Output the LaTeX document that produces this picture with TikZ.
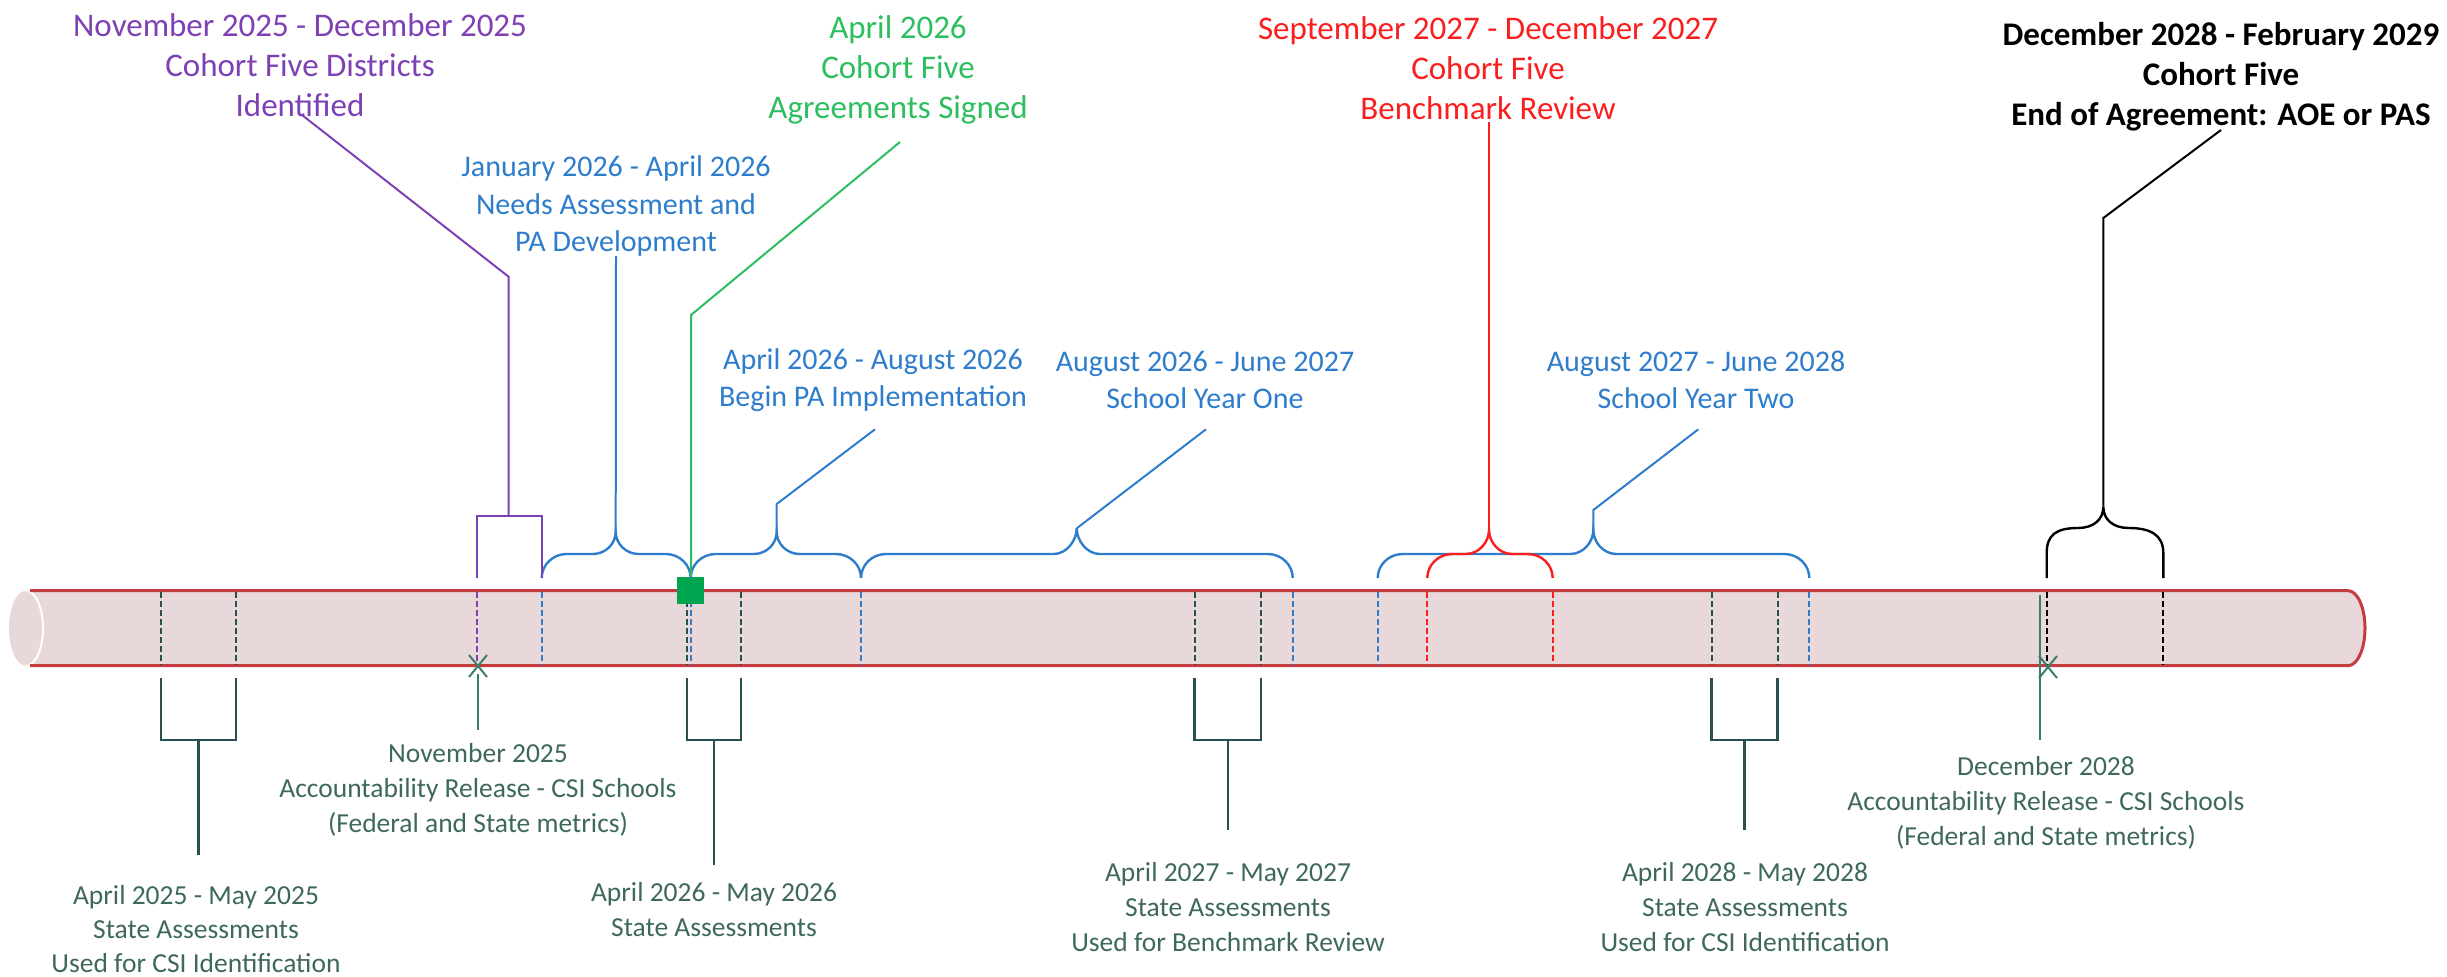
\documentclass[tikz,border=0pt]{standalone}
\usepackage{fontspec}
\setmainfont{Carlito}
\usetikzlibrary{calc}
\definecolor{cylfill}{RGB}{233,216,217}
\definecolor{cylline}{RGB}{196,60,62}
\definecolor{tlblue}{RGB}{46,125,205}
\definecolor{tlpurple}{RGB}{125,65,180}
\definecolor{tlgreen}{RGB}{45,190,95}
\definecolor{sqgreen}{RGB}{0,165,80}
\definecolor{tlred}{RGB}{250,30,30}
\definecolor{tealtxt}{RGB}{62,104,94}
\definecolor{slate}{RGB}{40,80,80}
\definecolor{xteal}{RGB}{60,125,108}
% brace: #1 left x, #2 right x, #3 tip x, #4 tip y, #5 style
\newcommand\tlbrace[5]{%
  \draw[#5] (#1,578) .. controls (#1,565) and ({#1+11},554) .. ({#1+25},554)
    -- ({#3-23},554) .. controls ({#3-10},554) and (#3,{#4+12}) .. (#3,#4)
    .. controls (#3,{#4+12}) and ({#3+10},554) .. ({#3+23},554)
    -- ({#2-25},554) .. controls ({#2-11},554) and (#2,565) .. (#2,578);}
\begin{document}
\begin{tikzpicture}[x=1pt,y=-1pt,
  lbl/.style={align=center,inner sep=0pt},
  toplbl/.style={lbl,font=\fontsize{33}{40}\selectfont},
  midlbl/.style={lbl,font=\fontsize{30}{37.5}\selectfont,text=tlblue},
  botlbl/.style={lbl,font=\fontsize{27.5}{35}\selectfont,text=tealtxt},
  tick/.style={line width=2pt,dash pattern=on 6pt off 3pt},
  brc/.style={line width=2.4pt},
  conn/.style={line width=2pt},
  sqbr/.style={line width=2.4pt,slate},
  xmark/.style={line width=2pt,xteal}]
\useasboundingbox (0,0) rectangle (2447,977);

% ---- cylinder ----
\fill[cylfill] (26,590.7) rectangle (2348,665.7);
\fill[cylfill] (26,628.2) ellipse[x radius=17pt,y radius=37.5pt];
\fill[cylfill] (2348,590.7) arc[start angle=90,end angle=-90,x radius=17pt,y radius=37.5pt] -- cycle;
\draw[white,line width=2pt] (26,590.7) arc[start angle=90,end angle=-90,x radius=17pt,y radius=37.5pt];
\draw[cylline,line width=3pt] (30,590.7) -- (2348,590.7)
  arc[start angle=90,end angle=-90,x radius=17pt,y radius=37.5pt] -- (30,665.7);

% ---- dashed ticks ----
\foreach \x in {161,236,686.7,741,1194.5,1261,1711.5,1777.5}
  \draw[tick,slate] (\x,592) -- (\x,664.5);
\foreach \x in {2046.7,2163.3}
  \draw[tick,black] (\x,592) -- (\x,664.5);
\draw[tick,tlpurple] (477.3,592) -- (477.3,664.5);
\foreach \x in {541.7,690.7,861,1292.7,1377.7,1809.3}
  \draw[tick,tlblue] (\x,592) -- (\x,664.5);
\foreach \x in {1427.3,1552.7}
  \draw[tick,tlred] (\x,592) -- (\x,664.5);

\node[fill=sqgreen,minimum size=27pt,inner sep=0pt] (sq) at (690.8,590.3) {};

% ---- top labels ----
\node[toplbl,text=tlpurple] (pur) at (300,65) {November 2025 - December 2025\\Cohort Five Districts\\Identified};
\node[toplbl,text=tlgreen] (grn) at (898,70) {April 2026\\Cohort Five\\Agreements Signed};
\node[toplbl,text=tlred] (rd) at (1488,68) {September 2027 - December 2027\\Cohort Five\\Benchmark Review};
\node[toplbl,font=\fontsize{33}{40}\selectfont\bfseries] (blk) at (2221,77) {December 2028 - February 2029\\Cohort Five\\End of Agreement: AOE or PAS};

\node[midlbl] (na) at (616,206) {January 2026 - April 2026\\Needs Assessment and\\PA Development};
\node[midlbl] (pai) at (873,380) {April 2026 - August 2026\\Begin PA Implementation};
\node[midlbl] (sy1) at (1205,380) {August 2026 - June 2027\\School Year One};
\node[midlbl] (sy2) at (1696,380) {August 2027 - June 2028\\School Year Two};

% ---- braces ----
\tlbrace{541.7}{690.7}{615.7}{531.7}{brc,tlblue}
\tlbrace{690.7}{861}{776.7}{531.7}{brc,tlblue}
\tlbrace{861}{1292.7}{1076.7}{528.3}{brc,tlblue}
\tlbrace{1377.7}{1809.3}{1593.3}{530}{brc,tlblue}
\tlbrace{1427.3}{1552.7}{1489}{530}{brc,tlred}
\draw[brc,black] (2046.7,578) -- (2046.7,553) .. controls (2046.7,535) and (2056,528) .. (2078,528)
  .. controls (2093,528) and (2103.3,520) .. (2103.3,506.7)
  .. controls (2103.3,520) and (2113.6,528) .. (2128.6,528)
  .. controls (2150.6,528) and (2163.3,535) .. (2163.3,553) -- (2163.3,578);

% ---- connector points ----
\coordinate (tipNA) at (615.7,531.7);
\coordinate (tipPAI) at (776.7,531.7);
\coordinate (tipSY1) at (1076.7,528.3);
\coordinate (tipSY2) at (1593.3,530);
\coordinate (tipRD) at (1489,530);
\coordinate (tipBK) at (2103.3,506.7);

\coordinate (pA) at (302,115);
\coordinate (pB) at (508.6,276.7);
\coordinate (pC) at (508.6,515.7);
\coordinate (pL) at (477.3,515.7);
\coordinate (pR) at (541.7,515.7);
\draw[conn,tlpurple] (pA) -- (pB) -- (pC);
\draw[conn,tlpurple] (477.3,578) -- (pL) -- (pR) -- (541.7,578);

\coordinate (gA) at (900,142);
\coordinate (gB) at (691,315);
\draw[conn,tlgreen] (gA) -- (gB) -- (sq.north -| gB);

\coordinate (nA) at (616,256);
\draw[conn,tlblue] (nA) -- (tipNA);
\coordinate (iA) at (875,429.3);
\coordinate (iB) at (776.7,504);
\draw[conn,tlblue] (iA) -- (iB) -- (tipPAI);
\coordinate (oA) at (1206,429.3);
\draw[conn,tlblue] (oA) -- (tipSY1);
\coordinate (wA) at (1698.3,429.3);
\coordinate (wB) at (1593.3,510);
\draw[conn,tlblue] (wA) -- (wB) -- (tipSY2);
\coordinate (rA) at (1489,122);
\draw[conn,tlred] (rA) -- (tipRD);
\coordinate (kA) at (2221,130);
\coordinate (kB) at (2103.3,218);
\draw[conn,black] (kA) -- (kB) -- (tipBK);

% ---- bottom brackets ----
\draw[sqbr] (161,678) -- (161,740) -- (236,740) -- (236,678);
\draw[sqbr] (686.7,678) -- (686.7,740) -- (741,740) -- (741,678);
\draw[sqbr] (1194.5,678) -- (1194.5,740) -- (1261,740) -- (1261,678);
\draw[sqbr] (1711.5,678) -- (1711.5,740) -- (1777.5,740) -- (1777.5,678);

\node[botlbl,font=\fontsize{27.5}{34}\selectfont] (sa25) at (196,929) {April 2025 - May 2025\\State Assessments\\Used for CSI Identification};
\node[botlbl] (ar25) at (478,790) {November 2025\\Accountability Release - CSI Schools\\(Federal and State metrics)};
\node[botlbl] (sa26) at (714,910) {April 2026 - May 2026\\State Assessments};
\node[botlbl] (sa27) at (1228,907) {April 2027 - May 2027\\State Assessments\\Used for Benchmark Review};
\node[botlbl] (sa28) at (1745,907) {April 2028 - May 2028\\State Assessments\\Used for CSI Identification};
\node[botlbl] (ar28) at (2046,803) {December 2028\\Accountability Release - CSI Schools\\(Federal and State metrics)};

\coordinate (b1) at (198.5,740);
\coordinate (b1e) at (198.5,855);
\draw[sqbr] (b1) -- (b1e);
\coordinate (b2) at (713.8,740);
\coordinate (b2e) at (713.8,865);
\draw[sqbr] (b2) -- (b2e);
\coordinate (b3) at (1228,740);
\coordinate (b3e) at (1228,830);
\draw[sqbr] (b3) -- (b3e);
\coordinate (b4) at (1744.5,740);
\coordinate (b4e) at (1744.5,830);
\draw[sqbr] (b4) -- (b4e);

% ---- accountability markers ----
\coordinate (x1) at (478,666);
\draw[xmark] ($(x1)+(-9,-11)$) -- ($(x1)+(9,11)$) ($(x1)+(-9,11)$) -- ($(x1)+(9,-11)$);
\coordinate (x1s) at (478,674);
\coordinate (x1e) at (478,730);
\draw[xmark] (x1s) -- (x1e);
\coordinate (x2) at (2048,667);
\draw[xmark] ($(x2)+(-9,-11)$) -- ($(x2)+(9,11)$) ($(x2)+(-9,11)$) -- ($(x2)+(9,-11)$);
\coordinate (x2s) at (2040,595);
\coordinate (x2e) at (2040,740);
\draw[xmark] (x2s) -- (x2e);
\end{tikzpicture}
\end{document}
